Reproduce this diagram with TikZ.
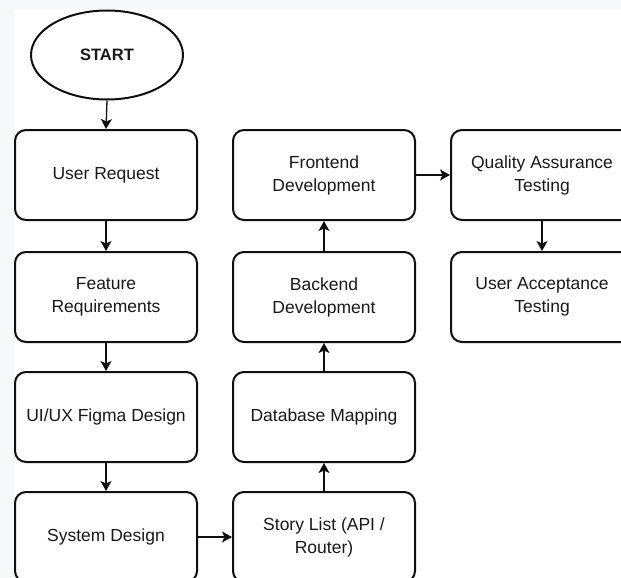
\documentclass[tikz,border=0pt]{standalone}
\usepackage{fontspec}
\setmainfont{Liberation Sans}
\usetikzlibrary{shapes.geometric,arrows.meta}
\definecolor{pagebg}{RGB}{246,248,250}
\definecolor{inkline}{RGB}{15,15,15}
\definecolor{inktext}{RGB}{25,25,25}
\tikzset{
  stepbox/.style={draw=inkline, line width=2pt, rounded corners=11pt, fill=white,
    minimum width=182pt, minimum height=90pt, align=center, text=inktext,
    font=\fontsize{17.5}{23}\selectfont},
  startnode/.style={draw=inkline, line width=2pt, ellipse, fill=white,
    minimum width=152pt, minimum height=89pt, text=inktext,
    font=\fontsize{16.5}{20}\selectfont\bfseries},
  flow/.style={draw=inkline, line width=1.3pt,
    -{Stealth[length=10pt, width=11pt, inset=2.5pt]}}
}
\begin{document}
\begin{tikzpicture}[x=1pt, y=-1pt]
  \useasboundingbox (0,0) rectangle (621,578);
  \clip (0,0) rectangle (621,578);
  % page background with the faint margin strips
  \fill[pagebg] (0,0) rectangle (621,578);
  \fill[white] (14,9) rectangle (621,578);

  % start terminal
  \node[startnode] (start) at (107,55) {START};

  % left column
  \node[stepbox] (req)  at (106,175) {User Request};
  \node[stepbox] (feat) at (106,297) {Feature\\Requirements};
  \node[stepbox] (ui)   at (106,417) {UI/UX Figma Design};
  \node[stepbox] (sys)  at (106,537) {System Design};

  % middle column
  \node[stepbox] (story) at (324,537) {Story List (API /\\Router)};
  \node[stepbox] (db)    at (324,417) {Database Mapping};
  \node[stepbox] (back)  at (324,297) {Backend\\Development};
  \node[stepbox] (front) at (324,175) {Frontend\\Development};

  % right column
  \node[stepbox] (qa)  at (542,175) {Quality Assurance\\Testing};
  \node[stepbox] (uat) at (542,297) {User Acceptance\\Testing};

  % connectors
  \draw[flow] (start.south) -- (req.north);
  \draw[flow] (req.south) -- (feat.north);
  \draw[flow] (feat.south) -- (ui.north);
  \draw[flow] (ui.south) -- (sys.north);
  \draw[flow] (sys.east) -- (story.west);
  \draw[flow] (story.north) -- (db.south);
  \draw[flow] (db.north) -- (back.south);
  \draw[flow] (back.north) -- (front.south);
  \draw[flow] (front.east) -- (qa.west);
  \draw[flow] (qa.south) -- (uat.north);
\end{tikzpicture}
\end{document}
